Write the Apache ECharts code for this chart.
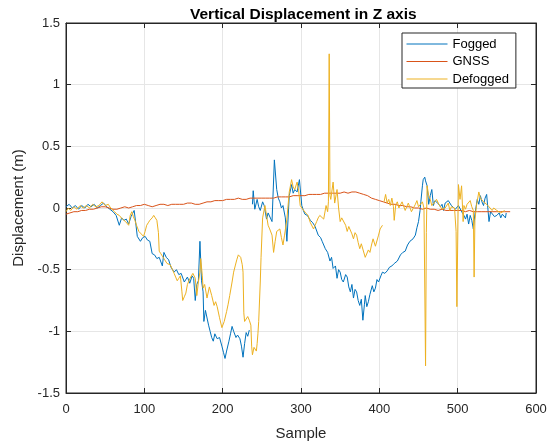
<!DOCTYPE html>
<html>
<head>
<meta charset="utf-8">
<script src="https://cdn.jsdelivr.net/npm/echarts@6/dist/echarts.min.js"></script>
<style>
  html, body { margin: 0; padding: 0; background: #fff; }
  #chart { width: 558px; height: 446px; }
</style>
</head>
<body>
<div id="chart"></div>
<script>
// sample indices and displacement (m), null = gap in the trace
const foggedX = [0,4,8,12,16,20,24,28,32,36,40,44,48,52,56,60,64,68,71,74,77,80,83,87,89,91,95,98,101,104,107,110,113,116,119,123,125,128,131,134,138,141,144,147,151,155,158,161,163,165,167,169,171,173,175,176,178,180,182,184,186,188,190,193,196,199,201,203,205,208,210,212,214,217,219,222,224,226,228,230,232,234,236,
  238,239,241,244,246,248,251,253,256,258,260,263,266,269,271,273,275,277,280,282,285,288,290,292,295,298,301,303,305,308,312,315,318,322,325,327,331,334,337,339,341,344,346,348,350,352,354,357,359,361,363,365,367,369,371,373,375,377,379,381,382,384,386,388,391,393,395,397,399,402,404,407,410,413,416,419,423,427,430,433,436,439,443,446,448,450,452,453,455,456,458,459,461,463,465,467,469,471,473,476,478,480,482,484,486,488,490,492,494,497,499,501,503,506,508,510,512,514,516,518,520,522,525,527,529,531,533,535,537,540,542,544,547,550,553,555,557,559,561,562];
const foggedY = [0.01,0.03,0.0,0.02,-0.01,0.02,0.0,0.03,0.01,0.03,0.0,0.02,0.04,0.01,-0.01,-0.03,-0.06,-0.14,-0.08,-0.10,-0.09,-0.13,-0.07,-0.02,-0.12,-0.23,-0.27,-0.24,-0.23,-0.26,-0.27,-0.37,-0.38,-0.41,-0.40,-0.47,-0.36,-0.40,-0.42,-0.48,-0.52,-0.50,-0.54,-0.53,-0.60,-0.56,-0.61,-0.55,-0.57,-0.75,-0.62,-0.59,-0.27,-0.59,-0.68,-0.92,-0.83,-0.84,-0.95,-1.00,-1.05,-1.08,-1.02,-1.06,-1.05,-1.12,-1.17,-1.22,-1.16,-1.08,-1.02,-0.96,-1.00,-1.05,-1.03,-1.06,-1.12,-1.21,-1.10,-1.01,-1.04,-0.99,null,
  0.03,0.14,-0.01,0.07,0.01,-0.02,0.05,0.02,-0.09,-0.04,-0.05,-0.11,0.39,0.15,0.08,0.05,0.0,0.02,-0.08,-0.27,0.10,0.19,0.12,0.15,0.13,0.23,0.02,-0.02,-0.05,-0.06,-0.10,-0.12,-0.15,-0.22,-0.24,-0.27,-0.33,-0.36,-0.43,-0.40,-0.49,-0.47,-0.57,-0.50,-0.52,-0.58,-0.60,-0.54,-0.56,-0.64,-0.68,-0.62,-0.73,-0.66,-0.68,-0.75,-0.79,-0.74,-0.91,-0.78,-0.71,-0.80,-0.76,-0.70,-0.63,-0.68,-0.65,-0.58,-0.60,-0.55,-0.52,-0.53,-0.51,-0.48,-0.47,-0.45,-0.43,-0.38,-0.36,-0.35,-0.30,-0.27,-0.25,-0.22,-0.16,-0.11,-0.02,0.05,0.18,0.23,0.25,0.22,0.18,0.03,0.10,0.15,0.02,0.06,0.07,0.03,0.01,0.03,-0.02,0.04,0.03,0.06,0.06,0.02,0.01,-0.01,-0.01,0.02,0.01,-0.04,-0.06,-0.09,-0.05,-0.13,-0.06,-0.10,-0.17,-0.05,0.07,0.03,0.10,0.05,0.02,0.08,0.11,-0.11,-0.03,-0.03,-0.07,-0.06,-0.04,-0.08,-0.05,-0.06,-0.08,-0.04];

const gnssX = [0,5,10,15,20,25,30,35,40,45,50,55,60,65,70,75,80,85,90,95,100,105,110,115,120,125,130,135,140,145,150,155,160,165,170,175,180,185,190,195,200,205,210,215,220,225,230,235,240,245,250,255,260,265,270,275,280,285,290,295,300,305,310,315,320,325,330,335,340,345,350,355,360,365,370,375,380,385,390,395,400,405,410,415,420,425,430,435,440,445,450,455,460,465,470,475,480,485,490,495,500,505,510,515,520,525,530,535,540,545,550,555,560,567];
const gnssY = [-0.05,-0.04,-0.03,-0.03,-0.02,-0.02,-0.01,-0.01,0.0,0.01,0.01,0.0,-0.01,-0.01,0.0,0.01,0.0,0.01,0.02,0.02,0.03,0.02,0.01,0.02,0.03,0.03,0.02,0.03,0.03,0.03,0.03,0.04,0.04,0.03,0.03,0.04,0.05,0.05,0.06,0.06,0.06,0.07,0.07,0.07,0.08,0.07,0.07,0.08,0.08,0.08,0.08,0.08,0.08,0.08,0.09,0.09,0.09,0.09,0.10,0.10,0.10,0.10,0.11,0.11,0.11,0.11,0.12,0.12,0.12,0.12,0.12,0.13,0.12,0.13,0.13,0.12,0.11,0.10,0.08,0.07,0.06,0.05,0.04,0.03,0.03,0.02,0.02,0.01,0.01,0.0,0.0,-0.01,0.0,-0.01,-0.01,-0.02,-0.01,-0.02,-0.02,-0.02,-0.02,-0.02,-0.03,-0.02,-0.03,-0.03,-0.03,-0.03,-0.03,-0.03,-0.03,-0.03,-0.03,-0.03];

const defoggedX = [0,3,6,10,14,18,22,26,30,34,38,42,46,50,54,57,59,62,65,68,72,76,80,82,84,86,88,90,93,96,99,101,103,105,107,110,112,114,116,118,119,121,123,126,129,131,133,136,138,140,142,144,146,148,149,151,153,155,157,160,162,165,167,169,171,172,174,175,177,180,183,186,189,191,193,196,199,202,205,207,209,212,214,216,218,220,222,223,225,226,227,228,230,232,234,236,237,238,240,241,243,244,245,246,248,249,251,254,256,258,260,263,265,267,269,271,273,275,277,279,282,285,288,290,292,295,297,299,301,303,306,309,312,316,318,320,322,324,326,329,332,334,335,336,337,338,341,343,346,348,350,352,354,357,359,361,363,365,367,369,371,373,375,377,379,382,384,386,388,390,392,395,397,399,401,404,405,
  406,408,410,412,414,416,418,419,421,423,425,427,429,431,433,435,437,439,441,443,446,448,450,452,455,457,459,460,461,463,465,467,469,471,473,476,478,480,482,484,486,488,490,492,494,496,498,499,500,501,503,505,507,508,510,512,514,516,518,520,521,522,524,527,529,531,533,535,537,540,542,544,546,548,550,552,555,557,560];
const defoggedY = [-0.03,0.0,-0.02,0.01,-0.01,0.02,0.0,0.02,0.0,0.03,0.01,0.02,0.05,0.02,0.03,0.0,-0.01,-0.03,-0.05,-0.06,-0.09,-0.11,-0.14,-0.06,-0.03,-0.07,-0.10,-0.14,-0.19,-0.21,-0.23,-0.19,-0.14,-0.12,-0.10,-0.08,-0.06,-0.08,-0.10,-0.20,-0.35,-0.37,-0.39,-0.42,-0.45,-0.44,-0.46,-0.50,-0.53,-0.56,-0.59,-0.57,-0.55,-0.68,-0.75,-0.72,-0.69,-0.62,-0.59,-0.55,-0.53,-0.57,-0.71,-0.60,-0.52,-0.41,-0.55,-0.65,-0.62,-0.73,-0.64,-0.71,-0.79,-0.76,-0.80,-0.89,-0.97,-0.92,-0.84,-0.78,-0.71,-0.60,-0.52,-0.47,-0.42,-0.38,-0.39,-0.40,-0.46,-0.52,-0.85,-0.92,-0.90,-0.88,-0.91,-0.95,-1.12,-1.19,-1.13,-1.12,-1.16,-1.10,-1.02,-0.92,-0.60,-0.40,-0.08,0.02,-0.06,-0.14,-0.17,-0.22,-0.36,-0.27,-0.19,-0.20,-0.17,-0.24,-0.30,-0.22,-0.09,0.13,0.23,0.17,0.15,0.21,0.14,0.02,0.0,-0.01,-0.04,-0.06,-0.12,-0.17,-0.14,-0.11,-0.08,-0.06,-0.07,-0.09,0.02,-0.03,0.05,1.25,0.10,0.07,0.21,0.04,0.15,0.0,-0.11,-0.08,-0.09,-0.14,-0.19,-0.15,-0.14,-0.21,-0.25,-0.20,-0.22,-0.28,-0.33,-0.29,-0.30,-0.40,-0.40,-0.34,-0.36,-0.30,-0.25,-0.31,-0.30,-0.22,-0.17,-0.14,null,
  0.05,0.11,0.04,0.07,0.02,0.08,0.01,-0.10,0.03,0.05,0.0,-0.01,0.05,0.06,-0.02,-0.02,0.04,0.05,-0.03,-0.03,0.03,0.06,0.01,0.02,0.05,0.0,-1.28,-0.20,0.18,0.10,0.07,0.02,0.01,0.05,0.07,0.03,0.03,-0.01,-0.01,0.0,0.01,0.04,-0.02,0.01,0.01,0.0,-0.19,-0.80,-0.30,0.19,0.07,0.18,-0.11,0.02,-0.01,0.03,0.03,0.06,0.01,-0.02,-0.56,-0.10,0.02,0.13,0.08,0.07,0.05,0.05,0.03,0.01,0.0,-0.02,0.0,0.01,-0.02,-0.02,-0.04,-0.03,-0.02];

const xTicks = [0, 600, 100];
const yTicks = [-1.5, 1.5, 0.5];

function pairs(xs, ys) {
  return xs.map((x, i) => [x, ys[i] === null ? '-' : ys[i]]);
}

const chart = echarts.init(document.getElementById('chart'), null, { renderer: 'canvas' });
const font = 'Liberation Sans, Arial, Helvetica, sans-serif';
const ink = '#262626';
const gridColor = '#e6e6e6';

const option = {
  backgroundColor: '#ffffff',
  animation: false,
  title: {
    text: 'Vertical Displacement in Z axis',
    left: 185,
    top: 2,
    textStyle: { fontFamily: font, fontSize: 15.5, fontWeight: 'bold', color: '#000' }
  },
  legend: {
    orient: 'vertical',
    left: 402,
    top: 33,
    padding: [4, 7, 2, 4],
    itemGap: 3.5,
    itemWidth: 41,
    itemHeight: 14,
    itemStyle: { opacity: 0 },
    lineStyle: { width: 1 },
    borderColor: ink,
    borderWidth: 1,
    backgroundColor: '#fff',
    textStyle: { fontFamily: font, fontSize: 13, color: '#000', lineHeight: 14 },
    data: ['Fogged', 'GNSS', 'Defogged']
  },
  grid: {
    left: 66, right: 22, top: 23, bottom: 51,
    show: true, borderColor: ink, borderWidth: 1
  },
  xAxis: [{
    type: 'value',
    min: xTicks[0], max: xTicks[1], interval: xTicks[2],
    name: 'Sample',
    nameLocation: 'middle',
    nameGap: 33,
    nameTextStyle: { fontFamily: font, fontSize: 15, color: ink },
    axisLine: { onZero: false, lineStyle: { color: ink } },
    axisTick: { inside: true, length: 5, lineStyle: { color: ink } },
    axisLabel: { fontFamily: font, fontSize: 13, color: ink, margin: 10 },
    splitLine: { show: true, lineStyle: { color: gridColor } }
  }, {
    type: 'value', position: 'top',
    min: xTicks[0], max: xTicks[1], interval: xTicks[2],
    axisLine: { onZero: false, lineStyle: { color: ink } },
    axisTick: { inside: true, length: 5, lineStyle: { color: ink } },
    axisLabel: { show: false },
    splitLine: { show: false }
  }],
  yAxis: [{
    type: 'value',
    min: yTicks[0], max: yTicks[1], interval: yTicks[2],
    name: 'Displacement (m)',
    nameLocation: 'middle',
    nameGap: 30,
    nameTextStyle: { fontFamily: font, fontSize: 15, color: ink },
    axisLine: { show: true, onZero: false, lineStyle: { color: ink } },
    axisTick: { show: true, inside: true, length: 5, lineStyle: { color: ink } },
    axisLabel: { fontFamily: font, fontSize: 13, color: ink, margin: 6 },
    splitLine: { show: true, lineStyle: { color: gridColor } }
  }, {
    type: 'value', position: 'right',
    min: yTicks[0], max: yTicks[1], interval: yTicks[2],
    axisLine: { show: true, onZero: false, lineStyle: { color: ink } },
    axisTick: { show: true, inside: true, length: 5, lineStyle: { color: ink } },
    axisLabel: { show: false },
    splitLine: { show: false }
  }],
  series: [
    {
      name: 'Fogged', type: 'line', showSymbol: false, symbol: 'none',
      data: pairs(foggedX, foggedY),
      lineStyle: { color: '#0072BD', width: 1 }, itemStyle: { color: '#0072BD' }
    },
    {
      name: 'GNSS', type: 'line', showSymbol: false, symbol: 'none',
      data: pairs(gnssX, gnssY),
      lineStyle: { color: '#D95319', width: 1 }, itemStyle: { color: '#D95319' }
    },
    {
      name: 'Defogged', type: 'line', showSymbol: false, symbol: 'none',
      data: pairs(defoggedX, defoggedY),
      lineStyle: { color: '#EDB120', width: 1 }, itemStyle: { color: '#EDB120' }
    }
  ]
};
chart.setOption(option);
</script>
</body>
</html>
